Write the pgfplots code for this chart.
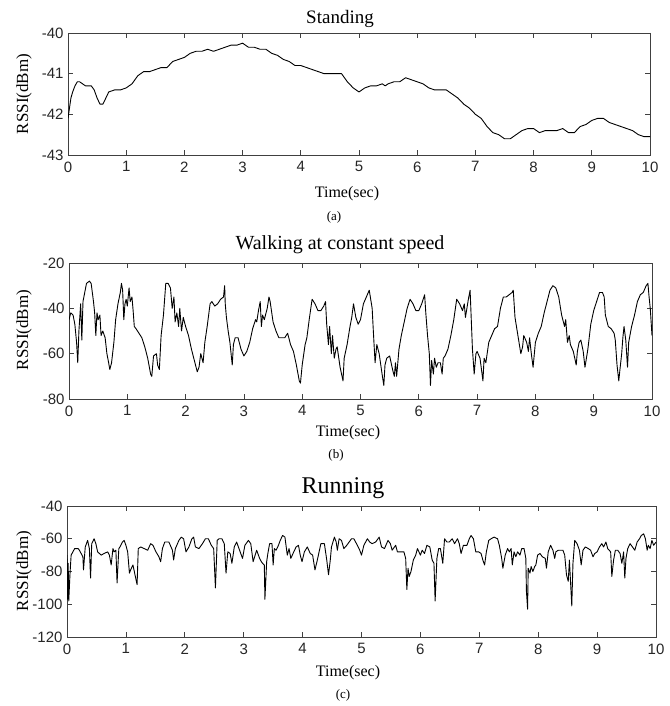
\documentclass[border=0pt]{standalone}
\usepackage{fontspec}
\setmainfont{Liberation Serif}
\newfontfamily\arial{Liberation Sans}
\usepackage{pgfplots}
\pgfplotsset{compat=1.18}

% MATLAB-like boxed panel, ticks inside on all four sides
\pgfplotsset{rssi/.style={
  scale only axis, anchor=north west,
  xmin=0, xmax=10, xtick={0,...,10},
  xticklabels={0,1,2,3,4,5,6,7,8,9,10},
  tick align=inside, tick pos=both, major tick length=5pt,
  axis line style={line width=0.8pt, black!75},
  tick style={line width=0.8pt, black!75},
  tick label style={font=\arial\fontsize{15}{15}\selectfont, text=black!85},
  xticklabel style={yshift=-3pt},
  yticklabel style={xshift=-1pt},
  clip=true,
}, trace/.style={black, line width=0.9pt, line join=round, mark=none}}

\begin{document}
\begin{tikzpicture}[x=1pt,y=1pt]
\path (0pt,0pt) rectangle (669pt,-706pt);

% ---------- (a) standing ----------
\begin{axis}[rssi, at={(68pt,-33pt)}, width=582pt, height=122pt,
  ymin=-43, ymax=-40, ytick={-43,-42,-41,-40},
  yticklabels={-43,-42,-41,-40}]
\addplot[trace] coordinates {
(0,-42.1) (0.02,-41.9) (0.05,-41.6) (0.08,-41.45) (0.12,-41.3) (0.16,-41.2) (0.2,-41.2)
(0.25,-41.25) (0.3,-41.3) (0.4,-41.3) (0.45,-41.4) (0.5,-41.6) (0.55,-41.75) (0.6,-41.75)
(0.65,-41.6) (0.7,-41.45) (0.8,-41.4) (0.9,-41.4) (1.0,-41.35) (1.1,-41.25) (1.2,-41.05)
(1.3,-40.95) (1.4,-40.95) (1.5,-40.9) (1.6,-40.85) (1.7,-40.85) (1.8,-40.7) (1.9,-40.65)
(2.0,-40.6) (2.1,-40.5) (2.2,-40.45) (2.3,-40.45) (2.4,-40.4) (2.5,-40.45) (2.6,-40.4)
(2.7,-40.35) (2.8,-40.3) (2.9,-40.3) (3.0,-40.25) (3.1,-40.35) (3.2,-40.35) (3.3,-40.4)
(3.4,-40.4) (3.5,-40.5) (3.6,-40.55) (3.7,-40.65) (3.8,-40.7) (3.9,-40.8) (4.0,-40.8)
(4.1,-40.85) (4.2,-40.9) (4.3,-40.95) (4.4,-41.0) (4.5,-41.0) (4.6,-41.0) (4.7,-41.0)
(4.8,-41.2) (4.9,-41.35) (5.0,-41.45) (5.1,-41.35) (5.2,-41.3) (5.3,-41.3) (5.4,-41.25)
(5.45,-41.3) (5.5,-41.25) (5.6,-41.2) (5.7,-41.2) (5.8,-41.1) (5.9,-41.15) (6.0,-41.2)
(6.1,-41.25) (6.2,-41.35) (6.3,-41.4) (6.4,-41.4) (6.5,-41.4) (6.6,-41.5) (6.7,-41.6)
(6.8,-41.75) (6.9,-41.85) (7.0,-42.0) (7.1,-42.1) (7.2,-42.3) (7.3,-42.45) (7.4,-42.5)
(7.5,-42.6) (7.6,-42.6) (7.7,-42.5) (7.8,-42.4) (7.9,-42.35) (8.0,-42.35) (8.1,-42.45)
(8.2,-42.4) (8.3,-42.4) (8.4,-42.4) (8.5,-42.35) (8.6,-42.45) (8.7,-42.45) (8.8,-42.3)
(8.9,-42.25) (9.0,-42.15) (9.1,-42.1) (9.2,-42.1) (9.3,-42.2) (9.4,-42.25) (9.5,-42.3)
(9.6,-42.35) (9.7,-42.4) (9.8,-42.5) (9.9,-42.55) (10,-42.55)
};
\end{axis}
\node[font=\fontsize{19}{19}\selectfont] at (340pt,-19pt) {Standing};
\node[font=\fontsize{17}{17}\selectfont, rotate=90] at (24pt,-94pt) {RSSI(dBm)};
\node[font=\fontsize{16}{16}\selectfont] at (347pt,-194pt) {Time(sec)};
\node[font=\fontsize{13}{13}\selectfont] at (334pt,-217pt) {(a)};

% ---------- (b) walking ----------
\begin{axis}[rssi, at={(69pt,-263pt)}, width=583pt, height=136pt,
  ymin=-80, ymax=-20, ytick={-80,-60,-40,-20},
  yticklabels={-80,-60,-40,-20}]
\addplot[trace] coordinates {
(0,-45) (0.03,-42) (0.07,-43) (0.1,-47) (0.13,-55) (0.15,-64) (0.17,-50) (0.2,-38)
(0.22,-54) (0.24,-37) (0.27,-33) (0.3,-29) (0.35,-28) (0.38,-29) (0.42,-37) (0.44,-42)
(0.46,-52) (0.48,-42) (0.5,-45) (0.53,-43) (0.55,-52) (0.58,-50) (0.62,-53) (0.65,-60)
(0.68,-64) (0.7,-67) (0.73,-64) (0.77,-55) (0.8,-45) (0.84,-38) (0.88,-33) (0.9,-29)
(0.92,-32) (0.94,-45) (0.96,-38) (0.98,-36) (1.0,-39) (1.03,-31) (1.05,-37) (1.08,-35)
(1.1,-41) (1.12,-48) (1.15,-49) (1.2,-51) (1.25,-53) (1.3,-57) (1.35,-62) (1.4,-69)
(1.42,-70) (1.45,-61) (1.5,-60) (1.52,-65) (1.55,-67) (1.58,-52) (1.62,-43) (1.66,-29)
(1.7,-29) (1.74,-31) (1.77,-40) (1.8,-35) (1.82,-46) (1.85,-42) (1.88,-48) (1.9,-40)
(1.93,-50) (1.96,-44) (2.0,-48) (2.05,-52) (2.1,-58) (2.15,-63) (2.2,-68) (2.23,-66)
(2.26,-60) (2.3,-64) (2.33,-55) (2.37,-48) (2.42,-38) (2.45,-37) (2.5,-39) (2.55,-38)
(2.6,-36) (2.65,-35) (2.67,-30) (2.68,-38) (2.7,-44) (2.73,-50) (2.76,-55) (2.8,-65)
(2.82,-56) (2.85,-53) (2.9,-53) (2.95,-58) (3.0,-61) (3.05,-59) (3.1,-55) (3.15,-49)
(3.2,-45) (3.22,-46) (3.25,-41) (3.28,-37) (3.3,-48) (3.32,-43) (3.35,-45) (3.4,-40)
(3.43,-35) (3.45,-37) (3.5,-46) (3.55,-50) (3.6,-53) (3.7,-53) (3.75,-51) (3.8,-56)
(3.85,-59) (3.9,-65) (3.95,-72) (3.97,-73) (4.0,-65) (4.05,-56) (4.08,-53) (4.12,-45)
(4.17,-36) (4.22,-38) (4.27,-41) (4.32,-41) (4.37,-39) (4.4,-37) (4.42,-47) (4.45,-56)
(4.47,-48) (4.5,-60) (4.52,-52) (4.55,-62) (4.58,-58) (4.6,-57) (4.65,-66) (4.7,-72)
(4.72,-62) (4.77,-56) (4.82,-48) (4.85,-44) (4.88,-38) (4.92,-44) (4.96,-47) (5.0,-45)
(5.05,-38) (5.1,-35) (5.15,-32) (5.2,-40) (5.22,-50) (5.25,-64) (5.28,-56) (5.32,-60)
(5.37,-69) (5.4,-74) (5.42,-65) (5.45,-62) (5.5,-61) (5.55,-67) (5.58,-70) (5.6,-64)
(5.62,-70) (5.66,-58) (5.7,-52) (5.75,-46) (5.8,-40) (5.85,-36) (5.9,-38) (5.95,-41)
(6.0,-41) (6.05,-38) (6.1,-34) (6.12,-42) (6.15,-52) (6.18,-60) (6.2,-74) (6.22,-63)
(6.25,-69) (6.27,-62) (6.3,-66) (6.33,-64) (6.37,-64) (6.4,-69) (6.42,-62) (6.45,-61)
(6.5,-58) (6.55,-52) (6.6,-45) (6.65,-36) (6.7,-38) (6.75,-41) (6.78,-38) (6.8,-44)
(6.85,-36) (6.88,-32) (6.92,-58) (6.95,-69) (6.98,-60) (7.0,-59) (7.05,-62) (7.1,-72)
(7.12,-62) (7.15,-64) (7.2,-55) (7.25,-52) (7.3,-49) (7.35,-48) (7.4,-40) (7.45,-35)
(7.5,-35) (7.55,-34) (7.6,-33) (7.62,-32) (7.65,-44) (7.7,-52) (7.75,-60) (7.78,-57)
(7.8,-52) (7.85,-55) (7.88,-59) (7.9,-53) (7.93,-60) (7.96,-66) (8.0,-55) (8.05,-51)
(8.1,-48) (8.15,-42) (8.2,-37) (8.25,-32) (8.3,-30) (8.35,-31) (8.4,-35) (8.45,-43)
(8.5,-48) (8.52,-45) (8.55,-55) (8.58,-52) (8.6,-56) (8.65,-59) (8.7,-65) (8.72,-59)
(8.75,-55) (8.78,-54) (8.82,-59) (8.85,-66) (8.9,-58) (8.95,-47) (9.0,-41) (9.05,-37)
(9.1,-33) (9.15,-33) (9.18,-35) (9.2,-43) (9.25,-48) (9.3,-49) (9.35,-51) (9.37,-54)
(9.4,-65) (9.43,-72) (9.45,-67) (9.48,-60) (9.5,-53) (9.52,-48) (9.55,-54) (9.58,-66)
(9.6,-55) (9.65,-48) (9.7,-43) (9.75,-37) (9.8,-34) (9.85,-33) (9.9,-30) (9.93,-29)
(9.95,-35) (9.97,-40) (10,-52)
};
\end{axis}
\node[font=\fontsize{20}{20}\selectfont] at (340pt,-245pt) {Walking at constant speed};
\node[font=\fontsize{17}{17}\selectfont, rotate=90] at (24pt,-330pt) {RSSI(dBm)};
\node[font=\fontsize{16}{16}\selectfont] at (348pt,-433pt) {Time(sec)};
\node[font=\fontsize{13}{13}\selectfont] at (336pt,-455pt) {(b)};

% ---------- (c) running ----------
\begin{axis}[rssi, at={(67pt,-506pt)}, width=589pt, height=131pt,
  ymin=-120, ymax=-40, ytick={-120,-100,-80,-60,-40},
  yticklabels={-120,-100,-80,-60,-40}]
\addplot[trace] coordinates {
(0,-70) (0.01,-97) (0.02,-75) (0.03,-98) (0.05,-82) (0.07,-70) (0.10,-68) (0.13,-66)
(0.19,-66) (0.21,-67) (0.27,-71) (0.28,-79) (0.31,-65) (0.35,-61) (0.38,-66) (0.40,-84)
(0.42,-63) (0.46,-60) (0.49,-63) (0.52,-68) (0.58,-70) (0.63,-69) (0.69,-68) (0.72,-70)
(0.75,-76) (0.78,-66) (0.80,-68) (0.83,-67) (0.85,-87) (0.88,-66) (0.90,-65) (0.94,-62)
(0.97,-61) (1.00,-64) (1.03,-68) (1.06,-81) (1.08,-79) (1.12,-76) (1.16,-83) (1.19,-88)
(1.21,-66) (1.25,-65) (1.31,-66) (1.37,-67) (1.42,-63) (1.46,-64) (1.51,-68) (1.56,-71)
(1.59,-74) (1.62,-66) (1.66,-62) (1.73,-62) (1.79,-67) (1.81,-73) (1.84,-66) (1.90,-61)
(1.94,-59) (1.98,-60) (2.02,-68) (2.07,-65) (2.12,-60) (2.15,-59) (2.18,-65) (2.24,-66)
(2.30,-63) (2.35,-60) (2.40,-60) (2.45,-64) (2.49,-66) (2.52,-90) (2.55,-61) (2.58,-60)
(2.63,-60) (2.67,-63) (2.70,-81) (2.73,-68) (2.77,-69) (2.80,-75) (2.84,-65) (2.88,-62)
(2.94,-68) (2.98,-72) (3.02,-64) (3.08,-61) (3.12,-63) (3.16,-74) (3.22,-67) (3.27,-72)
(3.30,-74) (3.32,-75) (3.35,-76) (3.36,-97) (3.39,-74) (3.41,-69) (3.44,-63) (3.48,-63)
(3.50,-76) (3.52,-66) (3.55,-67) (3.59,-64) (3.62,-61) (3.66,-58) (3.70,-59) (3.74,-70)
(3.77,-66) (3.80,-72) (3.85,-68) (3.89,-65) (3.93,-64) (3.96,-70) (3.99,-74) (4.03,-68)
(4.08,-65) (4.13,-69) (4.17,-70) (4.21,-79) (4.25,-73) (4.31,-63) (4.37,-63) (4.41,-73)
(4.44,-82) (4.47,-73) (4.49,-65) (4.54,-59) (4.57,-62) (4.59,-67) (4.62,-60) (4.66,-61)
(4.70,-66) (4.75,-64) (4.79,-62) (4.83,-60) (4.87,-60) (4.93,-64) (4.97,-67) (5.00,-70)
(5.04,-64) (5.10,-60) (5.14,-62) (5.18,-63) (5.24,-62) (5.30,-59) (5.34,-65) (5.39,-66)
(5.45,-61) (5.49,-63) (5.52,-67) (5.58,-64) (5.61,-68) (5.66,-68) (5.72,-68) (5.75,-72)
(5.77,-91) (5.79,-78) (5.81,-83) (5.84,-80) (5.88,-73) (5.92,-70) (5.95,-66) (6.00,-70)
(6.03,-67) (6.07,-69) (6.11,-64) (6.16,-65) (6.20,-73) (6.23,-75) (6.25,-98) (6.28,-72)
(6.31,-66) (6.34,-66) (6.38,-75) (6.41,-60) (6.45,-62) (6.49,-62) (6.54,-60) (6.58,-63)
(6.63,-60) (6.66,-63) (6.69,-69) (6.73,-64) (6.79,-64) (6.83,-60) (6.86,-58) (6.90,-60)
(6.94,-68) (6.99,-68) (7.03,-69) (7.06,-73) (7.09,-76) (7.12,-68) (7.16,-61) (7.20,-60)
(7.25,-59) (7.31,-60) (7.34,-64) (7.38,-72) (7.40,-78) (7.44,-70) (7.48,-66) (7.51,-68)
(7.54,-66) (7.56,-76) (7.59,-68) (7.62,-71) (7.65,-68) (7.69,-70) (7.72,-66) (7.76,-66)
(7.79,-72) (7.80,-92) (7.82,-103) (7.83,-78) (7.86,-81) (7.88,-77) (7.91,-80) (7.94,-77)
(7.96,-76) (7.99,-70) (8.03,-69) (8.07,-71) (8.12,-72) (8.14,-78) (8.17,-68) (8.21,-64)
(8.25,-67) (8.28,-72) (8.30,-68) (8.34,-67) (8.38,-67) (8.42,-67) (8.45,-70) (8.48,-82)
(8.51,-86) (8.53,-73) (8.57,-101) (8.59,-75) (8.62,-61) (8.66,-63) (8.70,-67) (8.73,-76)
(8.76,-67) (8.80,-65) (8.85,-66) (8.89,-67) (8.93,-71) (8.96,-69) (9.00,-68) (9.04,-65)
(9.08,-63) (9.11,-65) (9.15,-62) (9.18,-66) (9.23,-68) (9.25,-83) (9.28,-73) (9.31,-67)
(9.35,-67) (9.39,-69) (9.42,-75) (9.45,-68) (9.47,-84) (9.49,-72) (9.52,-66) (9.56,-63)
(9.60,-65) (9.64,-67) (9.68,-62) (9.72,-60) (9.75,-58) (9.79,-57) (9.82,-60) (9.85,-67)
(9.87,-64) (9.90,-66) (9.93,-61) (9.96,-64) (10,-62)
};
\end{axis}
\node[font=\fontsize{24}{24}\selectfont] at (343pt,-488pt) {Running};
\node[font=\fontsize{17}{17}\selectfont, rotate=90] at (24pt,-571pt) {RSSI(dBm)};
\node[font=\fontsize{16}{16}\selectfont] at (348pt,-673pt) {Time(sec)};
\node[font=\fontsize{13}{13}\selectfont] at (343pt,-695pt) {(c)};
\end{tikzpicture}
\end{document}
